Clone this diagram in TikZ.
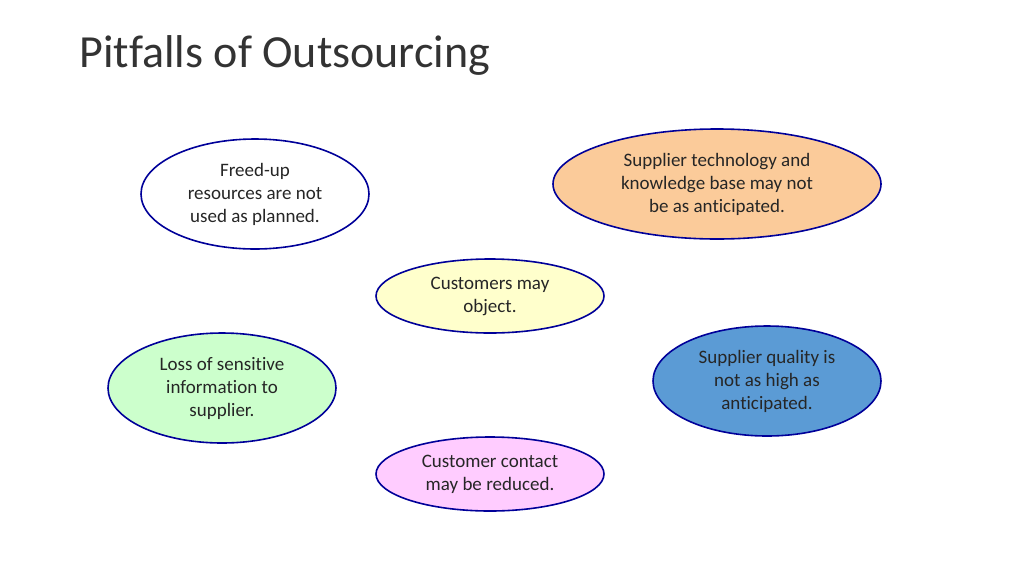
\documentclass[tikz,border=0pt]{standalone}
\usepackage{fontspec}
\setmainfont[RawFeature={-liga}]{Carlito}
\usetikzlibrary{shapes.geometric}
\definecolor{rimblue}{HTML}{000099}
\definecolor{peach}{HTML}{FBCB9A}
\definecolor{paleyellow}{HTML}{FFFFCC}
\definecolor{palegreen}{HTML}{CCFFCC}
\definecolor{midblue}{HTML}{5B9BD5}
\definecolor{palepink}{HTML}{FFCCFF}
\tikzset{
  pitfall/.style={ellipse, draw=rimblue, line width=1.6pt, inner sep=0pt,
    align=center, font=\fontsize{19}{23}\selectfont, text=black!85}
}
\begin{document}
\begin{tikzpicture}[x=1pt,y=-1pt]
		%%%%% START %%%%%
		\useasboundingbox (0,0) rectangle (1024,576);
		
		\node[anchor=west, font=\fontsize{46}{50}\selectfont, text=black!80] (title) at (76,55) {Pitfalls of Outsourcing};
		
		\node[pitfall, fill=white, minimum width=228pt, minimum height=110pt] (freed) at (255,194)
			{Freed-up\\resources are not\\used as planned.};
		\node[pitfall, fill=peach, minimum width=328pt, minimum height=110pt] (tech) at (717,184)
			{Supplier technology and\\knowledge base may not\\be as anticipated.};
		\node[pitfall, fill=paleyellow, minimum width=228pt, minimum height=74pt] (object) at (490,296)
			{Customers may\\object.};
		\node[pitfall, fill=palegreen, minimum width=228pt, minimum height=110pt] (loss) at (222,388)
			{Loss of sensitive\\information to\\supplier.};
		\node[pitfall, fill=midblue, minimum width=228pt, minimum height=110pt] (quality) at (767,381)
			{Supplier quality is\\not as high as\\anticipated.};
		\node[pitfall, fill=palepink, minimum width=228pt, minimum height=74pt] (contact) at (490,474)
			{Customer contact\\may be reduced.};
		
		%%%%% END %%%%%
\end{tikzpicture}
\end{document}
